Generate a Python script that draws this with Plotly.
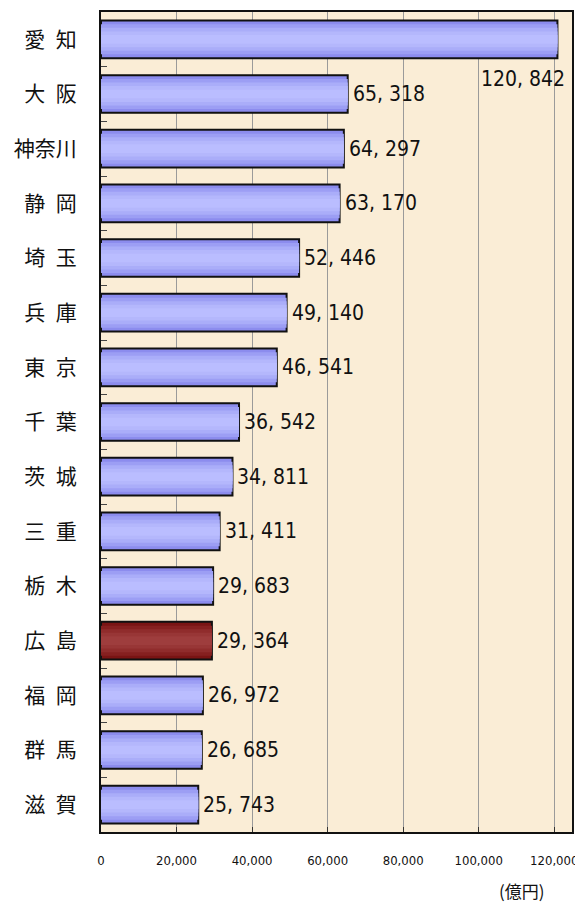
import plotly.graph_objects as go

prefectures = ["愛\u2002知", "大\u2002阪", "神奈川", "静\u2002岡", "埼\u2002玉", "兵\u2002庫",
               "東\u2002京", "千\u2002葉", "茨\u2002城", "三\u2002重", "栃\u2002木", "広\u2002島",
               "福\u2002岡", "群\u2002馬", "滋\u2002賀"]
values = [120842, 65318, 64297, 63170, 52446, 49140, 46541, 36542,
          34811, 31411, 29683, 29364, 26972, 26685, 25743]
highlight = "広\u2002島"
x_ticks = [0, 20000, 40000, 60000, 80000, 100000, 120000]
x_ticklabels = ["0", "20,000", "40,000", "60,000", "80,000", "100,000", "120,000"]
unit_label = "(億円)"

blue_layers = ["#8C8CEE", "#9C9EF4", "#AAADF9", "#B4B7FC", "#BABDFF"]
red_layers = ["#7A1414", "#862020", "#902C2C", "#983636", "#9E3D3D"]
layer_widths = [0.69, 0.55, 0.42, 0.29, 0.16]

fig = go.Figure()
for i, (w, cb, cr) in enumerate(zip(layer_widths, blue_layers, red_layers)):
    colors = [cr if p == highlight else cb for p in prefectures]
    fig.add_trace(go.Bar(
        x=values, y=prefectures, orientation="h", width=w,
        marker=dict(color=colors,
                    line=dict(color="#111111", width=2 if i == 0 else 0)),
        hoverinfo="skip" if i else "x+y", showlegend=False,
    ))

narrow = "DejaVu Sans Condensed, Liberation Sans Narrow, sans-serif"
label_font = dict(family=narrow, size=21, color="#111111")
vmax = max(values)
for p, v in zip(prefectures, values):
    txt = f"{v:,}".replace(",", ", ")
    if v == vmax:
        fig.add_annotation(x=v, y=p, text=txt, showarrow=False, xanchor="right",
                           yanchor="middle", xshift=10, yshift=-40, font=label_font)
    else:
        fig.add_annotation(x=v, y=p, text=txt, showarrow=False, xanchor="left",
                           yanchor="middle", xshift=3, yshift=0, font=label_font)

fig.add_annotation(x=1.0, y=0, xref="paper", yref="paper", text=unit_label,
                   showarrow=False, xanchor="right", yanchor="top", xshift=-25, yshift=-44,
                   font=dict(family="Noto Sans CJK JP", size=17, color="#111111"))

n = len(prefectures)
fig.update_layout(
    width=575, height=900,
    margin=dict(l=93, r=11, t=2, b=76),
    barmode="overlay",
    paper_bgcolor="white",
    plot_bgcolor="#FAEDD6",
    xaxis=dict(range=[0, 124700], tickvals=x_ticks, ticktext=x_ticklabels,
               showgrid=True, gridcolor="#9A9A9A", gridwidth=1,
               ticks="inside", ticklen=5, tickcolor="#333333",
               showline=True, linecolor="#111111", linewidth=2, mirror=True,
               zeroline=False, ticklabelstandoff=15,
               tickfont=dict(family=narrow, size=13, color="#111111")),
    yaxis=dict(categoryorder="array", categoryarray=prefectures,
               range=[n - 0.5, -0.5], autorange=False,
               ticks="inside", tickson="boundaries", ticklen=6, tickcolor="#444444",
               showline=True, linecolor="#111111", linewidth=2, mirror=True,
               showgrid=False, ticklabelstandoff=18,
               tickfont=dict(family="Noto Sans CJK JP", size=21, color="#111111")),
)

fig.write_html("out.html")
